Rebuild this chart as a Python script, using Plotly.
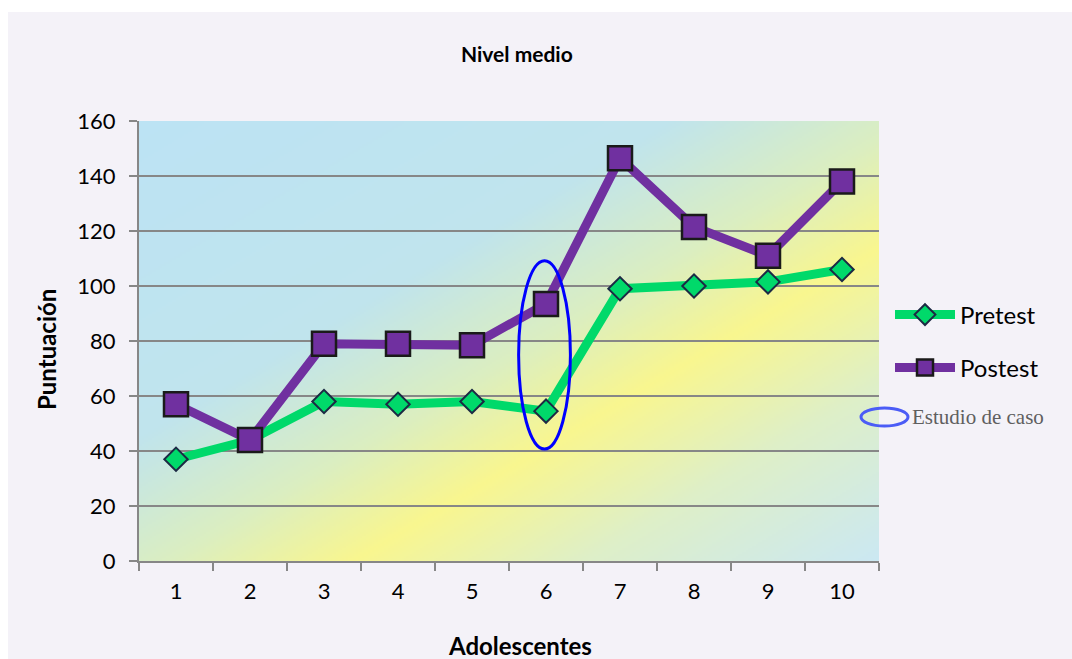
import base64
import struct
import zlib

import numpy as np
import plotly.graph_objects as go

# ---- data -------------------------------------------------------------
adolescentes = ["1", "2", "3", "4", "5", "6", "7", "8", "9", "10"]
pretest = [37, 44, 58, 57, 58, 54.5, 99, 100, 101.5, 106]
postest = [57, 44, 79, 79, 78.5, 93.5, 146.5, 121.5, 111, 138]
y_ticks = [0, 20, 40, 60, 80, 100, 120, 140, 160]

# ---- figure geometry (pixels) ----------------------------------------
FIG_W, FIG_H = 1072, 659
PLOT_L, PLOT_R, PLOT_T, PLOT_B = 139, 879, 121, 561


def px_x(px):
    return (px - PLOT_L) / (PLOT_R - PLOT_L)


def px_y(py):
    return (PLOT_B - py) / (PLOT_B - PLOT_T)


# ---- diagonal gradient fill for the plot area -------------------------
def gradient_uri(w=370, h=220):
    u = (np.arange(w) + 0.5) / w
    v = (np.arange(h) + 0.5) / h
    t = (u[None, :] + v[:, None]) / 2.0
    stops = [0.0, 0.36, 0.52, 0.645, 0.80, 1.0]
    cols = np.array([
        (188, 227, 244),
        (192, 228, 237),
        (219, 238, 193),
        (249, 246, 143),
        (222, 239, 200),
        (203, 232, 243),
    ], dtype=float)
    rgb = np.stack([np.interp(t, stops, cols[:, c]) for c in range(3)], axis=-1)
    rgb = np.clip(np.round(rgb), 0, 255).astype(np.uint8)
    raw = b"".join(b"\x00" + rgb[i].tobytes() for i in range(h))

    def chunk(tag, data):
        return (struct.pack(">I", len(data)) + tag + data
                + struct.pack(">I", zlib.crc32(tag + data) & 0xFFFFFFFF))

    png = (b"\x89PNG\r\n\x1a\n"
           + chunk(b"IHDR", struct.pack(">IIBBBBB", w, h, 8, 2, 0, 0, 0))
           + chunk(b"IDAT", zlib.compress(raw, 9))
           + chunk(b"IEND", b""))
    return "data:image/png;base64," + base64.b64encode(png).decode()


GREEN = "#00d96a"
PURPLE = "#7030a0"
GRID = "#878787"
FONT = "Lato"

fig = go.Figure()

fig.add_trace(go.Scatter(
    x=adolescentes, y=pretest, name="Pretest", mode="lines+markers",
    line=dict(color=GREEN, width=9),
    marker=dict(symbol="diamond", size=18, color=GREEN,
                line=dict(color="#1c2a44", width=2)),
    legend="legend",
))
fig.add_trace(go.Scatter(
    x=adolescentes, y=postest, name="Postest", mode="lines+markers",
    line=dict(color=PURPLE, width=9),
    marker=dict(symbol="square", size=24, color=PURPLE,
                line=dict(color="#1a1a1a", width=2.5)),
    legend="legend2",
))

fig.add_layout_image(dict(
    source=gradient_uri(), xref="x", yref="y",
    x=-0.5, y=160, sizex=10, sizey=160,
    xanchor="left", yanchor="top", sizing="stretch", layer="below",
))

shapes = [
    # chart card
    dict(type="rect", xref="paper", yref="paper",
         x0=px_x(8), x1=px_x(1080), y0=px_y(670), y1=px_y(12),
         fillcolor="#f4f2f8", line=dict(width=0), layer="below"),
    # highlight of the case study
    dict(type="circle", xref="x", yref="y",
         x0=4.63, x1=5.33, y0=40.7, y1=109.2,
         line=dict(color="#0000ff", width=3), layer="above"),
    # legend key for the case study
    dict(type="circle", xref="paper", yref="paper",
         x0=px_x(861), x1=px_x(908), y0=px_y(426), y1=px_y(408),
         line=dict(color="#4b5cf6", width=3)),
]

annotations = [
    dict(text="<b>Nivel medio</b>", x=px_x(517), y=px_y(54),
         font=dict(size=21)),
    dict(text="<b>Adolescentes</b>", x=px_x(520), y=px_y(645),
         font=dict(size=24)),
    dict(text="<b>Puntuación</b>", x=px_x(46), y=px_y(350),
         textangle=-90, font=dict(size=24)),
    dict(text="Estudio de caso", x=px_x(910), y=px_y(417), xanchor="left",
         font=dict(family="Liberation Serif", size=21, color="#5f5f5f")),
]
for a in annotations:
    a.update(xref="paper", yref="paper", showarrow=False)
    a.setdefault("xanchor", "center")
    a["yanchor"] = "middle"

legend_common = dict(
    xanchor="left", yanchor="middle", bgcolor="rgba(0,0,0,0)",
    borderwidth=0, itemwidth=60, font=dict(size=24, color="black"),
)

fig.update_layout(
    width=FIG_W, height=FIG_H, autosize=False,
    margin=dict(l=PLOT_L, r=FIG_W - PLOT_R, t=PLOT_T, b=FIG_H - PLOT_B, pad=0),
    paper_bgcolor="white", plot_bgcolor="rgba(0,0,0,0)",
    font=dict(family=FONT, size=22, color="black"),
    showlegend=True,
    legend=dict(x=px_x(890), y=px_y(315), **legend_common),
    legend2=dict(x=px_x(890), y=px_y(368), **legend_common),
    shapes=shapes, annotations=annotations,
    xaxis=dict(
        type="category", range=[-0.5, 9.5], tickson="boundaries",
        ticks="outside", ticklen=8, tickwidth=2, tickcolor=GRID,
        showgrid=False, showline=True, linecolor=GRID, linewidth=2,
        ticklabelstandoff=10, tickfont=dict(size=22),
    ),
    yaxis=dict(
        range=[0, 160], tickvals=y_ticks, ticks="outside", ticklen=8,
        tickwidth=2, tickcolor=GRID, showgrid=True, gridcolor=GRID,
        gridwidth=2, showline=True, linecolor=GRID, linewidth=2,
        zeroline=False, ticklabelstandoff=9, tickfont=dict(size=22),
    ),
)

fig.write_html("out.html")
